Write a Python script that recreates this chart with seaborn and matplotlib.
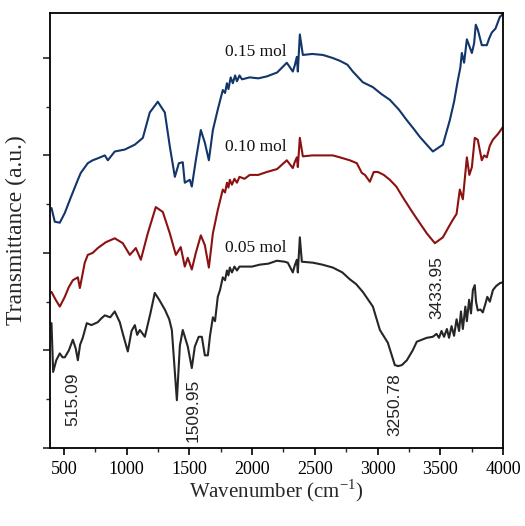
import numpy as np
import pandas as pd
import matplotlib
matplotlib.use("Agg")
import matplotlib.pyplot as plt
from matplotlib.ticker import MultipleLocator
import seaborn as sns

# ---- data (wavenumber cm-1, transmittance a.u.) ----
wn_005 = [402, 415, 440, 468, 490, 508, 540, 572, 595, 612, 630, 651, 683, 720, 771, 800, 827, 870,
          906, 946, 975, 1010, 1040, 1066, 1085, 1106, 1146, 1190, 1225, 1260, 1305, 1340, 1361,
          1401, 1425, 1448, 1488, 1520, 1544, 1575, 1600, 1624, 1648, 1665, 1688, 1705, 1727, 1745,
          1767, 1785, 1800, 1812, 1823, 1840, 1860, 1880, 1900, 1927, 2000, 2062, 2130, 2198, 2260,
          2285, 2325, 2340, 2357, 2365, 2381, 2397, 2485, 2560, 2644, 2720, 2779, 2830, 2883, 2963,
          3019, 3082, 3138, 3165, 3194, 3234, 3280, 3313, 3393, 3440, 3470, 3490, 3510, 3530, 3553,
          3570, 3590, 3610, 3630, 3650, 3665, 3680, 3700, 3712, 3730, 3745, 3760, 3775, 3785, 3799,
          3820, 3839, 3860, 3875, 3895, 3920, 3945, 3975, 4000]
t_005 = [1.28, 0.78, 0.90, 0.97, 0.93, 0.93, 1.00, 1.11, 1.02, 0.90, 1.06, 1.13, 1.28, 1.26, 1.29, 1.33,
         1.36, 1.34, 1.40, 1.29, 1.15, 0.99, 1.20, 1.26, 1.16, 1.21, 1.14, 1.38, 1.59, 1.52, 1.42,
         1.32, 1.21, 0.49, 1.05, 1.21, 1.04, 0.82, 1.04, 1.14, 1.14, 0.95, 0.95, 1.15, 1.34, 1.30,
         1.55, 1.62, 1.75, 1.72, 1.82, 1.77, 1.85, 1.80, 1.86, 1.82, 1.86, 1.86, 1.86, 1.88, 1.89,
         1.92, 1.91, 1.90, 1.80, 1.87, 1.93, 1.80, 2.16, 1.91, 1.90, 1.88, 1.85, 1.80, 1.73, 1.68,
         1.60, 1.45, 1.21, 1.08, 0.85, 0.84, 0.85, 0.90, 1.00, 1.09, 1.13, 1.14, 1.17, 1.13, 1.20,
         1.14, 1.22, 1.13, 1.25, 1.15, 1.32, 1.20, 1.40, 1.22, 1.45, 1.30, 1.52, 1.38, 1.62, 1.67,
         1.50, 1.41, 1.42, 1.39, 1.48, 1.55, 1.50, 1.62, 1.66, 1.69, 1.70]

wn_010 = [402, 435, 468, 508, 540, 572, 612, 628, 667, 691, 730, 771, 835, 906, 970, 1026, 1074,
          1114, 1169, 1233, 1289, 1345, 1393, 1432, 1464, 1488, 1520, 1552, 1592, 1624, 1656, 1688,
          1727, 1767, 1785, 1800, 1812, 1823, 1840, 1860, 1880, 1900, 1940, 1982, 2050, 2118, 2200,
          2277, 2325, 2340, 2357, 2365, 2381, 2405, 2480, 2564, 2644, 2700, 2779, 2835, 2875, 2900,
          2939, 2970, 3003, 3050, 3098, 3150, 3202, 3282, 3393, 3457, 3521, 3560, 3600, 3630, 3656,
          3680, 3712, 3732, 3752, 3775, 3799, 3831, 3850, 3871, 3895, 3919, 3960, 3999]
t_010 = [1.60, 1.52, 1.45, 1.55, 1.65, 1.72, 1.75, 1.64, 1.90, 1.98, 2.00, 2.05, 2.11, 2.15, 2.10,
         1.98, 2.05, 1.93, 2.20, 2.47, 2.42, 2.20, 1.98, 2.06, 1.86, 1.95, 1.83, 2.00, 2.18, 2.08,
         1.85, 2.20, 2.44, 2.65, 2.62, 2.72, 2.67, 2.75, 2.70, 2.76, 2.72, 2.78, 2.76, 2.80, 2.80,
         2.83, 2.86, 2.95, 2.87, 2.93, 2.98, 2.88, 3.18, 2.99, 3.00, 3.00, 3.00, 2.98, 2.95, 2.92,
         2.82, 2.80, 2.73, 2.83, 2.83, 2.80, 2.75, 2.68, 2.57, 2.41, 2.20, 2.10, 2.16, 2.25, 2.34,
         2.40, 2.65, 2.55, 2.98, 2.80, 2.88, 3.18, 3.16, 2.95, 3.00, 2.98, 3.10, 3.16, 3.22, 3.29]

wn_015 = [402, 428, 468, 508, 556, 612, 635, 691, 730, 771, 827, 851, 906, 986, 1066, 1130, 1185,
          1249, 1305, 1345, 1385, 1417, 1448, 1464, 1504, 1520, 1552, 1592, 1624, 1656, 1688, 1727,
          1767, 1785, 1800, 1812, 1830, 1847, 1865, 1880, 1900, 1920, 1982, 2050, 2118, 2200, 2277,
          2325, 2340, 2357, 2365, 2381, 2405, 2480, 2564, 2640, 2700, 2760, 2803, 2883, 2963, 3030,
          3098, 3170, 3234, 3290, 3337, 3441, 3521, 3576, 3610, 3640, 3660, 3672, 3690, 3712, 3752,
          3770, 3783, 3799, 3831, 3871, 3890, 3911, 3940, 3975, 4000]
t_015 = [2.46, 2.32, 2.31, 2.41, 2.57, 2.75, 2.82, 2.92, 2.95, 2.97, 3.00, 2.95, 3.04, 3.06, 3.11,
         3.18, 3.44, 3.55, 3.44, 3.09, 2.78, 2.92, 2.93, 2.72, 2.75, 2.68, 2.95, 3.26, 3.13, 2.95,
         3.26, 3.47, 3.67, 3.64, 3.74, 3.68, 3.80, 3.74, 3.82, 3.76, 3.82, 3.78, 3.80, 3.79, 3.81,
         3.85, 3.95, 3.86, 3.92, 4.01, 3.86, 4.24, 4.03, 4.04, 4.03, 4.00, 3.97, 3.93, 3.86, 3.75,
         3.70, 3.63, 3.57, 3.47, 3.36, 3.27, 3.19, 3.04, 3.11, 3.36, 3.55, 3.77, 3.90, 4.05, 3.95,
         4.19, 4.05, 4.15, 4.34, 4.29, 4.13, 4.13, 4.20, 4.26, 4.30, 4.42, 4.45]

series_names = ["0.05 mol", "0.10 mol", "0.15 mol"]
colors = {"0.05 mol": "#262626", "0.10 mol": "#8c1111", "0.15 mol": "#12356b"}

peak_labels = ["515.09", "1509.95", "3250.78", "3433.95"]
peak_x = [572, 1528, 3138, 3473]
peak_y = [0.50, 0.39, 0.44, 1.64]

label_x = [1783, 1783, 1783]
label_y = [2.05, 3.09, 4.06]

frames = []
for name, wn, t in zip(series_names, [wn_005, wn_010, wn_015], [t_005, t_010, t_015]):
    frames.append(pd.DataFrame({"wn": wn, "t": t, "sample": name}))
df = pd.concat(frames, ignore_index=True)

sns.set_theme(style="white")
plt.rcParams["font.family"] = ["Liberation Serif", "DejaVu Serif"]
plt.rcParams["mathtext.fontset"] = "custom"
plt.rcParams["mathtext.rm"] = "Liberation Serif"

fig = plt.figure(figsize=(5.25, 5.26), dpi=100)
ax = fig.add_axes([50 / 525, 78 / 526, 453 / 525, 435 / 526])

sns.lineplot(data=df, x="wn", y="t", hue="sample", palette=colors, estimator=None,
             sort=False, linewidth=1.5, legend=False, ax=ax)

ax.set_xlim(390, 4000)
ax.set_ylim(0, 4.46)
ax.xaxis.set_major_locator(MultipleLocator(500))
ax.xaxis.set_minor_locator(MultipleLocator(250))
ax.yaxis.set_major_locator(MultipleLocator(1))
ax.yaxis.set_minor_locator(MultipleLocator(0.5))
ax.set_yticklabels([])
ax.tick_params(axis="x", which="major", direction="out", length=5, width=1.2,
               labelsize=13, bottom=True, top=False, pad=4, colors="black")
ax.tick_params(axis="x", which="minor", direction="out", length=3, width=1.0, bottom=True, top=False)
ax.tick_params(axis="y", which="major", direction="out", length=5, width=1.2, left=True, right=False)
ax.tick_params(axis="y", which="minor", direction="out", length=3, width=1.0, left=True, right=False)
for sp in ax.spines.values():
    sp.set_visible(True)
    sp.set_color("black")
    sp.set_linewidth(1.3)

ax.set_xlabel("Wavenumber (cm$^{\\mathregular{-1}}$)", fontsize=15, labelpad=0)
ax.set_ylabel("Transmittance (a.u.)", fontsize=17, labelpad=8)

for name, lx, ly in zip(series_names, label_x, label_y):
    ax.text(lx, ly, name, fontsize=12.5, ha="left", va="center", color="#111111")

for lab, px, py in zip(peak_labels, peak_x, peak_y):
    ax.text(px, py, lab, rotation=90, fontsize=12.5, ha="center", va="center",
            family=["Liberation Sans", "DejaVu Sans"], color="#222222")

fig.savefig("out.png", dpi=100, facecolor="white")
